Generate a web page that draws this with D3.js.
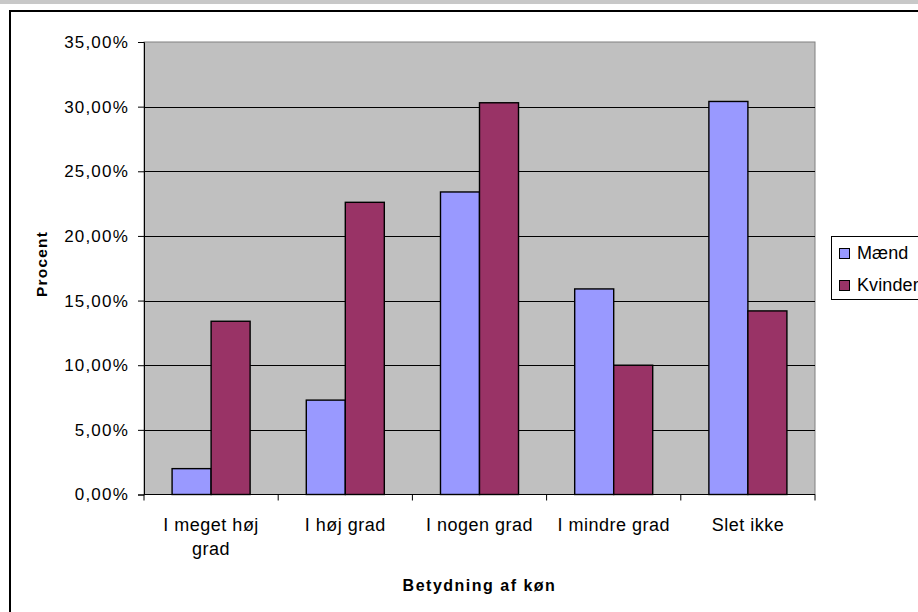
<!DOCTYPE html>
<html>
<head>
<meta charset="utf-8">
<title>Betydning af køn</title>
<script src="https://cdn.jsdelivr.net/npm/d3@7"></script>
<style>
    body { margin: 0; background: white; }
    text { font-family: "Liberation Sans", Arial, sans-serif; fill: black; }
</style>
</head>
<body>
<svg id="mainsvg" width="918" height="612"></svg>
<script>
    // data (percent)
    const categories = ['I meget høj grad', 'I høj grad', 'I nogen grad', 'I mindre grad', 'Slet ikke'];
    const seriesNames = ['Mænd', 'Kvinder'];
    const maend = [2.0, 7.3, 23.4, 15.9, 30.4];
    const kvinder = [13.4, 22.6, 30.3, 10.0, 14.2];
    const yTicks = [0, 5, 10, 15, 20, 25, 30, 35];
    const colors = ['#9999ff', '#993366'];

    const svg = d3.select('#mainsvg');
    const plot = { left: 144, right: 815, top: 42, bottom: 494.5 };

    // grey strip at the very top and chart frame
    svg.append('rect').attr('x', 0).attr('y', 0).attr('width', 918).attr('height', 4).attr('fill', '#c8c8c8');
    svg.append('rect').attr('x', 10).attr('y', 11).attr('width', 1000).attr('height', 700)
        .attr('fill', 'white').attr('stroke', 'black').attr('stroke-width', 2);

    const x = d3.scaleBand().domain(categories).range([plot.left, plot.right]).padding(0);
    const xInner = d3.scaleBand().domain(seriesNames).range([0, x.bandwidth()])
        .paddingInner(0).paddingOuter(0.72);
    const y = d3.scaleLinear().domain([0, 35]).range([plot.bottom, plot.top]);

    // plot area
    svg.append('rect')
        .attr('x', plot.left).attr('y', plot.top)
        .attr('width', plot.right - plot.left).attr('height', plot.bottom - plot.top)
        .attr('fill', '#c0c0c0').attr('stroke', '#808080').attr('stroke-width', 1);

    // gridlines
    svg.append('g').selectAll('line').data(yTicks.filter(t => t > 0 && t < 35)).join('line')
        .attr('x1', plot.left).attr('x2', plot.right)
        .attr('y1', d => Math.round(y(d)) + 0.5).attr('y2', d => Math.round(y(d)) + 0.5)
        .attr('stroke', 'black').attr('stroke-width', 1);

    // bars
    const rows = categories.map((c, i) => ({ cat: c, values: [maend[i], kvinder[i]] }));
    const groups = svg.append('g').selectAll('g').data(rows).join('g')
        .attr('transform', d => `translate(${x(d.cat)},0)`);
    groups.selectAll('rect').data(d => d.values.map((v, j) => ({ name: seriesNames[j], v: v, j: j }))).join('rect')
        .attr('x', d => xInner(d.name))
        .attr('y', d => y(d.v))
        .attr('width', xInner.bandwidth())
        .attr('height', d => y(0) - y(d.v))
        .attr('fill', d => colors[d.j])
        .attr('stroke', 'black').attr('stroke-width', 1.4);

    // y axis
    const yAxis = svg.append('g').attr('transform', `translate(${plot.left},0)`)
        .call(d3.axisLeft(y).tickValues(yTicks).tickSize(6).tickPadding(9)
            .tickFormat(d => d3.format('.2f')(d).replace('.', ',') + '%'));
    yAxis.select('.domain').attr('stroke', 'black');
    yAxis.selectAll('line').attr('stroke', 'black');
    yAxis.selectAll('text').attr('font-size', 17).attr('letter-spacing', 1.2)
        .attr('font-family', '"Liberation Sans", Arial, sans-serif').attr('fill', 'black');

    // x axis
    const boundaries = categories.map(c => x(c)).concat([plot.right]);
    svg.append('line').attr('x1', plot.left).attr('x2', plot.right)
        .attr('y1', plot.bottom).attr('y2', plot.bottom).attr('stroke', 'black');
    svg.append('g').selectAll('line').data(boundaries).join('line')
        .attr('x1', d => d).attr('x2', d => d)
        .attr('y1', plot.bottom).attr('y2', plot.bottom + 6)
        .attr('stroke', 'black');

    const catLines = { 'I meget høj grad': ['I meget høj', 'grad'] };
    const catText = svg.append('g').selectAll('text').data(categories).join('text')
        .attr('text-anchor', 'middle')
        .attr('font-size', 18).attr('letter-spacing', 0.5)
        .attr('transform', d => `translate(${x(d) + x.bandwidth() / 2},531)`);
    catText.selectAll('tspan').data(d => catLines[d] || [d]).join('tspan')
        .attr('x', 0).attr('y', (d, i) => i * 24).text(d => d);

    // axis titles
    svg.append('text').attr('x', (plot.left + plot.right) / 2).attr('y', 591)
        .attr('text-anchor', 'middle').attr('font-weight', 'bold')
        .attr('font-size', 16).attr('letter-spacing', 1.5)
        .text('Betydning af køn');
    svg.append('text').attr('transform', 'translate(47,264) rotate(-90)')
        .attr('text-anchor', 'middle').attr('font-weight', 'bold')
        .attr('font-size', 15.5).attr('letter-spacing', 1.2)
        .text('Procent');

    // legend
    const legend = svg.append('g').attr('transform', 'translate(831,236)');
    legend.append('rect').attr('x', 0.5).attr('y', 0.5).attr('width', 120).attr('height', 63)
        .attr('fill', 'white').attr('stroke', 'black').attr('stroke-width', 1);
    const items = legend.selectAll('.item').data(seriesNames).join('g')
        .attr('class', 'item')
        .attr('transform', (d, i) => `translate(0,${i * 32})`);
    items.append('rect').attr('x', 8.5).attr('y', 12.5).attr('width', 10).attr('height', 10)
        .attr('fill', (d, i) => colors[i]).attr('stroke', 'black');
    items.append('text').attr('x', 26).attr('y', 22.5)
        .attr('font-size', 18).attr('letter-spacing', 0.1)
        .text(d => d);
</script>
</body>
</html>
